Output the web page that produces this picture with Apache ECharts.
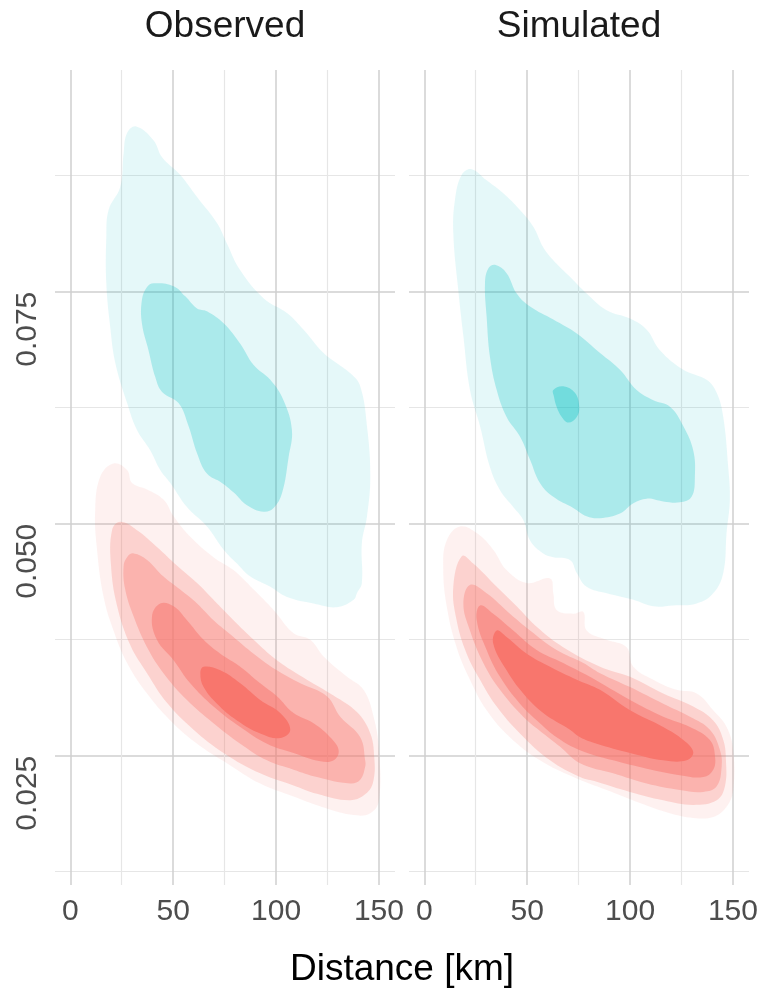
<!DOCTYPE html>
<html>
<head>
<meta charset="utf-8">
<script src="https://cdn.jsdelivr.net/npm/echarts@6/dist/echarts.min.js"></script>
<style>html,body{margin:0;padding:0;background:#fff}#main{width:764px;height:990px}</style>
</head>
<body>
<div id="main"></div>
<script>
// ---------- data ----------
const panelTitles = ['Observed', 'Simulated'];
const xTitle = 'Distance [km]';
const xMajor = [0, 50, 100, 150];
const xMinor = [25, 75, 125];
const yMajor = [0.025, 0.05, 0.075];
const yMinor = [0.0125, 0.0375, 0.0625, 0.0875];
const bandAlpha = [0.1, 0.325, 0.55, 0.775, 1.0]; // alpha of density bands 1..5

// Observed: density contour outlines [distance, value]
const obsCyan1 = [[32.1,0.0928],[40.5,0.0913],[44.6,0.0895],[53.4,0.0876],[61.6,0.0852],[71.3,0.0824],[76.1,0.0802],[82.6,0.0773],[93.9,0.0743],[105.3,0.0727],[113.4,0.0709],[123.1,0.0684],[136.1,0.0662],[140.9,0.0648],[144.2,0.0605],[145.8,0.0551],[144.2,0.0508],[141.7,0.0479],[141.7,0.0436],[139.3,0.0425],[137.7,0.0418],[129.6,0.0410],[118.2,0.0414],[105.3,0.0421],[97.2,0.0432],[87.5,0.0443],[81.0,0.0457],[74.5,0.0472],[66.4,0.0497],[56.7,0.0518],[48.6,0.0544],[43.7,0.0558],[38.9,0.0579],[32.4,0.0601],[27.6,0.0630],[21.9,0.0673],[19.4,0.0712],[17.5,0.0759],[17.5,0.0809],[18.6,0.0838],[24.3,0.0863],[25.9,0.0899],[27.6,0.0921]];
const obsCyan2 = [[40.5,0.0759],[50.2,0.0756],[55.9,0.0745],[61.6,0.0732],[66.4,0.0729],[74.5,0.0716],[82.6,0.0694],[89.1,0.0671],[97.2,0.0655],[103.6,0.0633],[107.7,0.0601],[106.1,0.0572],[102.9,0.0533],[98.8,0.0517],[93.9,0.0513],[85.9,0.0520],[79.3,0.0534],[73.7,0.0544],[66.4,0.0554],[61.6,0.0576],[57.5,0.0605],[52.6,0.0630],[44.6,0.0642],[41.3,0.0658],[38.0,0.0687],[34.8,0.0716],[34.8,0.0741],[37.3,0.0755]];
const obsRed1 = [[21.0,0.0565],[27.6,0.0558],[30.0,0.0544],[37.3,0.0537],[45.3,0.0526],[50.2,0.0508],[58.3,0.0486],[69.6,0.0464],[79.3,0.0450],[89.1,0.0429],[98.8,0.0407],[108.5,0.0382],[116.6,0.0375],[123.1,0.0357],[134.5,0.0335],[142.5,0.0321],[147.4,0.0292],[150.0,0.0256],[150.0,0.0202],[145.8,0.0188],[137.7,0.0186],[124.7,0.0193],[108.5,0.0206],[92.3,0.0220],[76.1,0.0242],[61.6,0.0263],[48.6,0.0288],[37.3,0.0317],[27.6,0.0350],[21.0,0.0385],[16.2,0.0421],[13.0,0.0472],[12.1,0.0515],[14.6,0.0551]];
const obsRed2 = [[24.3,0.0502],[32.4,0.0493],[42.1,0.0475],[51.8,0.0455],[61.6,0.0436],[69.6,0.0418],[79.3,0.0396],[89.1,0.0375],[100.4,0.0353],[115.0,0.0332],[127.9,0.0315],[139.3,0.0297],[145.8,0.0274],[147.7,0.0249],[147.4,0.0224],[144.2,0.0210],[136.1,0.0202],[119.9,0.0209],[108.5,0.0218],[92.3,0.0231],[74.5,0.0253],[59.9,0.0278],[47.0,0.0307],[37.3,0.0339],[29.2,0.0369],[22.7,0.0412],[19.8,0.0455],[20.3,0.0493]];
const obsRed3 = [[30.8,0.0468],[37.3,0.0461],[45.3,0.0443],[53.4,0.0429],[61.6,0.0414],[69.6,0.0396],[79.3,0.0378],[89.1,0.0360],[100.4,0.0342],[111.8,0.0328],[124.7,0.0314],[131.2,0.0292],[140.9,0.0270],[143.3,0.0245],[143.3,0.0238],[140.9,0.0224],[136.1,0.0220],[119.9,0.0227],[108.5,0.0235],[95.6,0.0245],[82.6,0.0263],[69.6,0.0285],[56.7,0.0310],[45.3,0.0339],[37.3,0.0367],[30.8,0.0400],[26.7,0.0429],[25.9,0.0454],[27.6,0.0464]];
const obsRed4 = [[43.7,0.0414],[50.2,0.0411],[56.7,0.0396],[64.8,0.0375],[72.9,0.0360],[82.6,0.0346],[92.3,0.0328],[100.4,0.0314],[108.5,0.0296],[118.2,0.0285],[126.3,0.0270],[130.4,0.0256],[128.0,0.0245],[121.5,0.0244],[108.5,0.0253],[95.6,0.0263],[82.6,0.0281],[69.6,0.0303],[58.3,0.0328],[50.2,0.0353],[42.1,0.0375],[39.7,0.0400]];
const obsRed5 = [[64.8,0.0346],[72.9,0.0342],[82.6,0.0328],[92.3,0.0310],[102.0,0.0296],[106.9,0.0278],[102.0,0.0269],[92.3,0.0274],[81.0,0.0288],[71.3,0.0306],[64.8,0.0324],[63.2,0.0339]];

// Simulated
const simCyan1 = [[23.0,0.0882],[30.3,0.0870],[38.4,0.0856],[46.5,0.0838],[53.0,0.0820],[57.8,0.0798],[62.7,0.0784],[70.8,0.0766],[78.9,0.0748],[88.6,0.0730],[100.0,0.0721],[108.1,0.0709],[114.5,0.0687],[125.9,0.0666],[137.2,0.0655],[142.1,0.0641],[145.3,0.0615],[147.7,0.0561],[148.5,0.0526],[146.9,0.0490],[145.3,0.0447],[140.4,0.0425],[132.4,0.0414],[121.0,0.0412],[111.3,0.0411],[101.6,0.0418],[88.6,0.0425],[78.9,0.0432],[74.1,0.0447],[70.8,0.0461],[62.7,0.0464],[57.8,0.0468],[51.4,0.0482],[48.1,0.0504],[43.2,0.0518],[36.8,0.0536],[31.9,0.0561],[27.1,0.0605],[22.2,0.0644],[19.0,0.0702],[16.5,0.0752],[14.1,0.0813],[14.9,0.0849],[18.2,0.0876]];
const simCyan2 = [[34.4,0.0779],[40.0,0.0770],[44.9,0.0748],[51.4,0.0734],[62.7,0.0720],[74.1,0.0705],[85.4,0.0684],[95.1,0.0666],[103.2,0.0644],[111.3,0.0633],[119.4,0.0626],[125.9,0.0605],[130.7,0.0579],[131.5,0.0551],[129.9,0.0529],[124.2,0.0523],[116.1,0.0524],[108.1,0.0527],[101.6,0.0522],[95.1,0.0511],[85.4,0.0506],[78.9,0.0508],[72.4,0.0517],[62.7,0.0529],[56.2,0.0544],[51.4,0.0569],[46.5,0.0594],[40.0,0.0615],[35.2,0.0644],[31.9,0.0680],[30.3,0.0723],[29.5,0.0759],[31.1,0.0775]];
const simCyan3 = [[62.7,0.0644],[67.5,0.0648],[73.2,0.0641],[75.3,0.0626],[74.1,0.0615],[70.0,0.0609],[66.8,0.0615],[64.3,0.0626],[63.0,0.0637]];
const simRed1 = [[17.3,0.0497],[25.5,0.0490],[33.5,0.0472],[40.0,0.0450],[49.8,0.0436],[61.1,0.0441],[62.7,0.0425],[64.3,0.0407],[72.4,0.0403],[77.3,0.0405],[78.9,0.0385],[88.6,0.0375],[98.3,0.0367],[101.6,0.0346],[111.3,0.0332],[122.6,0.0321],[132.4,0.0317],[140.4,0.0299],[146.9,0.0281],[150.1,0.0256],[150.1,0.0213],[146.9,0.0195],[140.4,0.0184],[130.7,0.0183],[119.4,0.0188],[104.8,0.0199],[88.6,0.0213],[72.4,0.0227],[56.2,0.0245],[41.6,0.0270],[30.3,0.0299],[22.2,0.0332],[15.7,0.0367],[10.9,0.0411],[9.2,0.0454],[10.9,0.0482]];
const simRed2 = [[18.2,0.0465],[23.8,0.0457],[35.2,0.0432],[44.9,0.0411],[54.6,0.0389],[67.5,0.0367],[85.4,0.0346],[100.0,0.0335],[116.1,0.0317],[130.7,0.0303],[140.4,0.0288],[145.3,0.0267],[146.6,0.0245],[146.1,0.0217],[142.1,0.0202],[130.7,0.0197],[116.1,0.0202],[100.0,0.0211],[83.8,0.0222],[75.7,0.0227],[61.1,0.0245],[46.5,0.0274],[35.2,0.0303],[27.1,0.0332],[20.6,0.0360],[15.7,0.0396],[14.1,0.0432]];
const simRed3 = [[22.2,0.0434],[30.3,0.0425],[41.6,0.0403],[51.4,0.0385],[64.3,0.0364],[77.3,0.0350],[85.4,0.0339],[100.0,0.0324],[116.1,0.0306],[129.1,0.0292],[138.8,0.0278],[143.7,0.0256],[144.5,0.0238],[142.1,0.0217],[135.6,0.0211],[124.2,0.0213],[108.1,0.0220],[91.8,0.0231],[75.7,0.0242],[65.9,0.0260],[57.8,0.0274],[48.1,0.0292],[36.8,0.0321],[28.7,0.0350],[22.2,0.0385],[19.0,0.0414]];
const simRed4 = [[27.1,0.0412],[33.5,0.0403],[43.2,0.0385],[54.6,0.0364],[67.5,0.0350],[80.5,0.0335],[100.0,0.0310],[116.1,0.0292],[129.1,0.0281],[138.8,0.0267],[141.3,0.0249],[140.4,0.0235],[135.6,0.0227],[124.2,0.0229],[108.1,0.0236],[91.8,0.0245],[75.7,0.0256],[64.3,0.0270],[56.2,0.0285],[46.5,0.0306],[36.8,0.0335],[30.3,0.0364],[25.5,0.0396]];
const simRed5 = [[35.2,0.0385],[40.0,0.0378],[49.8,0.0360],[61.1,0.0346],[74.1,0.0332],[85.4,0.0321],[100.0,0.0299],[116.1,0.0281],[125.9,0.0267],[130.7,0.0254],[127.5,0.0245],[116.1,0.0245],[100.0,0.0253],[83.8,0.0263],[75.7,0.0270],[70.8,0.0278],[57.8,0.0296],[48.1,0.0317],[40.0,0.0342],[33.5,0.0371]];

// ---------- layout / style ----------
const XMIN = -7.43, XMAX = 157.8, YMIN = 0.01107, YMAX = 0.09889;
const RED = [248, 118, 109], CYAN = [0, 191, 196];
const FONT = 'Liberation Sans, Arial, Helvetica, sans-serif';
const gridLefts = [55, 409];

// nested polygons: per-layer alpha so stacked result equals the band alpha
function layerAlpha(k) {
  const prev = k === 0 ? 0 : bandAlpha[k - 1];
  return 1 - (1 - bandAlpha[k]) / (1 - prev);
}

function polySeries(points, rgb, level, panel) {
  const a = Math.min(1, layerAlpha(level));
  return {
    type: 'custom',
    coordinateSystem: 'cartesian2d',
    xAxisIndex: panel * 2,
    yAxisIndex: panel * 2,
    data: points,
    encode: { x: 0, y: 1 },
    silent: true,
    animation: false,
    renderItem: function (params, api) {
      if (params.dataIndex !== 0) return null;
      const pts = points.map(p => api.coord(p));
      return {
        type: 'polygon',
        shape: { points: pts, smooth: 0.4 },
        style: { fill: 'rgba(' + rgb.join(',') + ',' + a.toFixed(4) + ')', stroke: null }
      };
    }
  };
}

const grids = gridLefts.map(l => ({ left: l, top: 70, width: 340, height: 815, containLabel: false }));

const xAxes = [], yAxes = [];
[0, 1].forEach(g => {
  xAxes.push({
    gridIndex: g, type: 'value', min: XMIN, max: XMAX, position: 'bottom',
    axisLine: { show: false }, axisTick: { show: false, customValues: xMajor },
    axisLabel: { customValues: xMajor, fontSize: 30, color: '#4d4d4d', fontFamily: FONT, margin: 12 },
    splitLine: { show: true, lineStyle: { color: '#cfcfcf', width: 1.5 } }
  });
  xAxes.push({
    gridIndex: g, type: 'value', min: XMIN, max: XMAX, position: 'top',
    axisLine: { show: false }, axisTick: { show: false, customValues: xMinor },
    axisLabel: { show: false },
    splitLine: { show: true, lineStyle: { color: '#e6e6e6', width: 1.2 } }
  });
  yAxes.push({
    gridIndex: g, type: 'value', min: YMIN, max: YMAX, position: 'left',
    axisLine: { show: false }, axisTick: { show: false, customValues: yMajor },
    axisLabel: { show: g === 0, customValues: yMajor, rotate: 90, align: 'right', verticalAlign: 'bottom',
                 fontSize: 30, color: '#4d4d4d', fontFamily: FONT, margin: 12,
                 formatter: v => v.toFixed(3) },
    splitLine: { show: true, lineStyle: { color: '#cfcfcf', width: 1.5 } }
  });
  yAxes.push({
    gridIndex: g, type: 'value', min: YMIN, max: YMAX, position: 'right',
    axisLine: { show: false }, axisTick: { show: false, customValues: yMinor },
    axisLabel: { show: false },
    splitLine: { show: true, lineStyle: { color: '#e6e6e6', width: 1.2 } }
  });
});

const series = [
  polySeries(obsCyan1, CYAN, 0, 0), polySeries(obsCyan2, CYAN, 1, 0),
  polySeries(obsRed1, RED, 0, 0), polySeries(obsRed2, RED, 1, 0), polySeries(obsRed3, RED, 2, 0),
  polySeries(obsRed4, RED, 3, 0), polySeries(obsRed5, RED, 4, 0),
  polySeries(simCyan1, CYAN, 0, 1), polySeries(simCyan2, CYAN, 1, 1), polySeries(simCyan3, CYAN, 2, 1),
  polySeries(simRed1, RED, 0, 1), polySeries(simRed2, RED, 1, 1), polySeries(simRed3, RED, 2, 1),
  polySeries(simRed4, RED, 3, 1), polySeries(simRed5, RED, 4, 1)
];

const chart = echarts.init(document.getElementById('main'), null, { renderer: 'canvas' });
chart.setOption({
  animation: false,
  backgroundColor: '#ffffff',
  grid: grids,
  xAxis: xAxes,
  yAxis: yAxes,
  series: series,
  graphic: [
    { type: 'text', x: 225, y: 27, style: { text: panelTitles[0], fontSize: 37, fontFamily: FONT, fill: '#1a1a1a', textAlign: 'center', textVerticalAlign: 'middle' } },
    { type: 'text', x: 579, y: 27, style: { text: panelTitles[1], fontSize: 37, fontFamily: FONT, fill: '#1a1a1a', textAlign: 'center', textVerticalAlign: 'middle' } },
    { type: 'text', x: 402, y: 970, style: { text: xTitle, fontSize: 37, fontFamily: FONT, fill: '#000000', textAlign: 'center', textVerticalAlign: 'middle' } }
  ]
});
</script>
</body>
</html>
